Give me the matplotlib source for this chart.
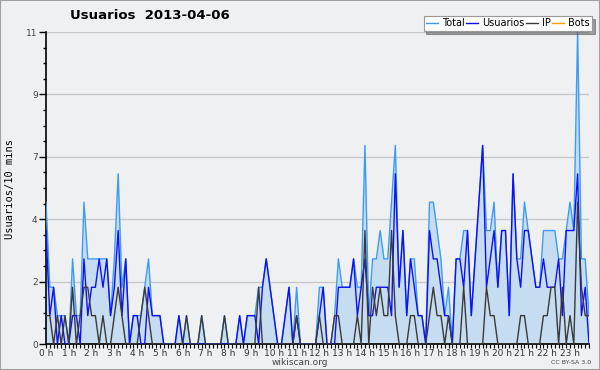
import numpy as np
import matplotlib
matplotlib.use("Agg")
from matplotlib import pyplot as plt
from matplotlib.patches import Rectangle

# 10-minute slots over the day (144 values)
usuarios = [4, 1, 2, 0, 1, 0, 0, 1, 1, 0, 3, 1,
            2, 2, 3, 2, 3, 1, 2, 4, 1, 3, 0, 1,
            1, 0, 0, 2, 1, 1, 1, 0, 0, 0, 0, 1,
            0, 0, 0, 0, 0, 0, 0, 0, 0, 0, 0, 0,
            0, 0, 0, 1, 0, 1, 1, 1, 0, 2, 3, 2,
            1, 0, 0, 1, 2, 0, 1, 0, 0, 0, 0, 0,
            1, 2, 0, 0, 0, 2, 2, 2, 2, 3, 1, 2,
            3, 1, 1, 2, 2, 2, 2, 1, 6, 2, 4, 1,
            3, 2, 1, 1, 0, 4, 3, 3, 2, 1, 1, 0,
            3, 3, 2, 4, 1, 3, 5, 7, 2, 3, 4, 2,
            4, 4, 1, 6, 3, 2, 4, 4, 3, 2, 2, 3,
            2, 2, 2, 3, 1, 4, 4, 4, 6, 1, 2, 0]
ip = [1, 1, 0, 1, 0, 1, 0, 2, 0, 1, 2, 2,
      1, 1, 0, 1, 0, 0, 1, 2, 1, 0, 0, 0,
      0, 1, 2, 1, 0, 0, 0, 0, 0, 0, 0, 0,
      0, 1, 0, 0, 0, 1, 0, 0, 0, 0, 0, 1,
      0, 0, 0, 0, 0, 0, 0, 0, 2, 0, 0, 0,
      0, 0, 0, 0, 0, 0, 1, 0, 0, 0, 0, 0,
      1, 0, 0, 0, 1, 1, 0, 0, 0, 0, 1, 0,
      4, 0, 2, 1, 2, 1, 1, 4, 1, 0, 0, 0,
      1, 1, 0, 0, 0, 1, 2, 1, 1, 0, 1, 0,
      0, 0, 2, 0, 0, 0, 0, 0, 2, 1, 1, 0,
      0, 0, 0, 0, 0, 1, 1, 0, 0, 0, 0, 1,
      1, 2, 2, 0, 2, 0, 1, 0, 5, 2, 1, 1]
total = [5, 2, 2, 1, 1, 1, 0, 3, 1, 1, 5, 3,
         3, 3, 3, 3, 3, 1, 3, 6, 2, 3, 0, 1,
         1, 1, 2, 3, 1, 1, 1, 0, 0, 0, 0, 1,
         0, 1, 0, 0, 0, 1, 0, 0, 0, 0, 0, 1,
         0, 0, 0, 1, 0, 1, 1, 1, 2, 2, 3, 2,
         1, 0, 0, 1, 2, 0, 2, 0, 0, 0, 0, 0,
         2, 2, 0, 0, 1, 3, 2, 2, 2, 3, 2, 2,
         7, 1, 3, 3, 4, 3, 3, 5, 7, 2, 4, 1,
         3, 3, 1, 1, 0, 5, 5, 4, 3, 1, 2, 0,
         3, 3, 4, 4, 1, 3, 5, 7, 4, 4, 5, 2,
         4, 4, 1, 6, 3, 3, 5, 4, 3, 2, 2, 4,
         4, 4, 4, 3, 3, 4, 5, 4, 11, 3, 3, 1]
bots = [0] * 144

hour_labels = ["%d h" % h for h in range(24)]
ytick_vals = [0, 2.2, 4.4, 6.6, 8.8, 11]
ytick_labels = ["0", "2", "4", "7", "9", "11"]

bg = "#eef0f2"
fig = plt.figure(figsize=(6, 3.7), dpi=100, facecolor=bg)
ax = fig.add_axes([46 / 600, 26 / 370, 543 / 600, 312 / 370])
ax.set_facecolor(bg)

x = np.arange(len(total))
ax.fill_between(x, 0, total, color="#c6dcf0", lw=0, zorder=1)
ax.plot(x, bots, color="#ff9900", lw=1, zorder=2, label="Bots")
ax.plot(x, total, color="#3d9bf5", lw=1, zorder=3, label="Total")
ax.plot(x, usuarios, color="#1010f5", lw=1, zorder=4, label="Usuarios")
ax.plot(x, ip, color="#3a3a3a", lw=1, zorder=5, label="IP")

ax.set_xlim(0, 143)
ax.set_ylim(0, 11)
ax.set_yticks(ytick_vals)
ax.set_yticklabels(ytick_labels)
ax.set_yticks(np.arange(0, 11.01, 0.55), minor=True)
ax.set_xticks(np.arange(0, 144, 6))
ax.set_xticklabels(hour_labels)
ax.set_xticks(np.arange(0, 144, 1), minor=True)
ax.yaxis.grid(True, color="#c8c8c8", lw=1)
ax.set_axisbelow(True)

for s in ["top", "right"]:
    ax.spines[s].set_visible(False)
ax.spines["left"].set_linewidth(1.2)
ax.spines["bottom"].set_linewidth(1.2)
ax.tick_params(axis="y", which="major", length=5, width=1, labelsize=6.5,
               labelcolor="#444444", pad=1)
ax.tick_params(axis="y", which="minor", length=2.5, width=1)
ax.tick_params(axis="x", which="both", length=3, width=0.8, labelsize=6.5,
               labelcolor="#333333", pad=0.5)

fig.text(10 / 600, 0.49, "Usuarios/10 mins", family="DejaVu Sans Mono",
         fontsize=7.5, rotation=90, ha="center", va="center")

fig.text(0.25, 0.957, "Usuarios  2013-04-06", ha="center", va="center",
         fontsize=9.5, fontweight="bold")
fig.text(0.5, 0.02, "wikiscan.org", ha="center", va="center", fontsize=6.5,
         color="#444444")
fig.text(0.985, 0.02, "CC BY-SA 3.0", ha="right", va="center", fontsize=4.5,
         color="#444444")

handles, labels = ax.get_legend_handles_labels()
order = [1, 2, 3, 0]
leg = fig.legend([handles[k] for k in order], [labels[k] for k in order],
                 loc="upper right", bbox_to_anchor=(592 / 600, 1 - 16 / 370),
                 ncol=4, fontsize=7, frameon=True, fancybox=False,
                 shadow=True, handlelength=1.2, handletextpad=0.4,
                 columnspacing=0.2, borderpad=0.25, borderaxespad=0)
leg.get_frame().set_edgecolor("#999999")
leg.get_frame().set_linewidth(0.8)

fig.patches.append(Rectangle((0, 0), 1, 1, transform=fig.transFigure,
                             fill=False, edgecolor="#a0a0a0", lw=1.5))

fig.savefig("out.png", dpi=100, facecolor=bg)
